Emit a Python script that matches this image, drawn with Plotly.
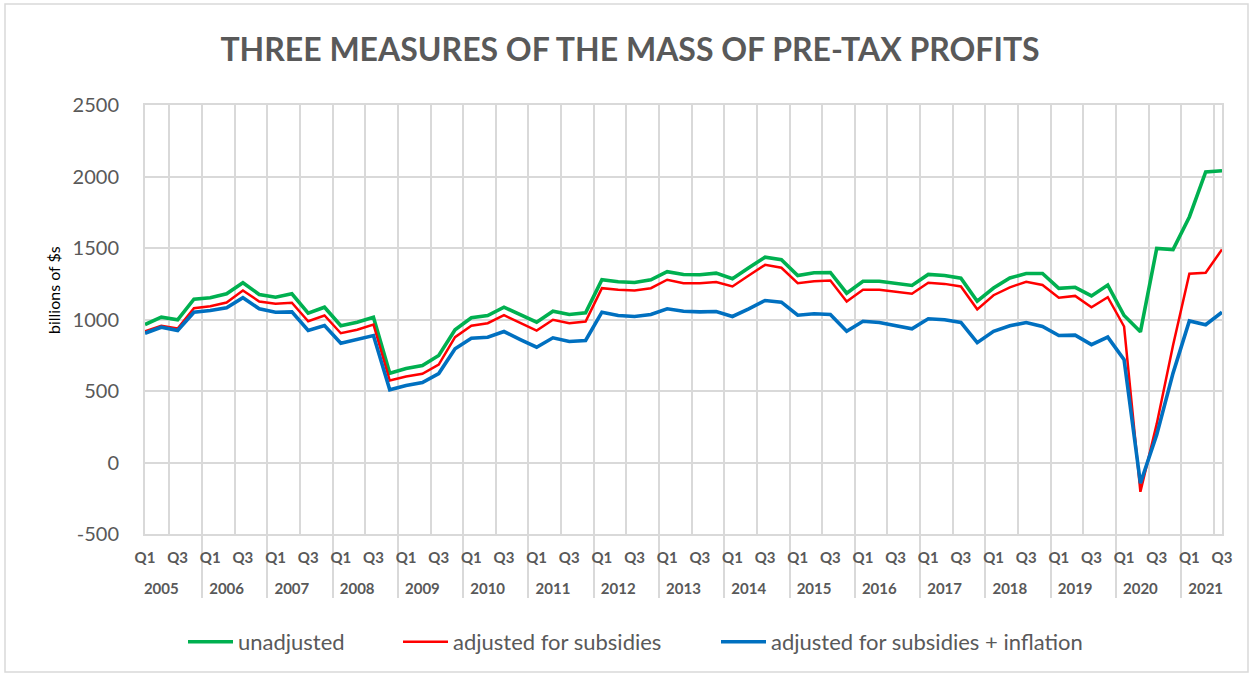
import plotly.graph_objects as go

# ---------------- data ----------------
years = [str(y) for y in range(2005, 2022)]
quarters = ["Q1", "Q2", "Q3", "Q4"]
shown_quarters = ["Q1", "Q3"]
y_tick_values = [-500, 0, 500, 1000, 1500, 2000, 2500]
y_tick_labels = ["-500", "0", "500", "1000", "1500", "2000", "2500"]

unadjusted = [
    965, 1016, 998, 1142,
    1152, 1180, 1257, 1175,
    1156, 1180, 1044, 1086,
    956, 981, 1016, 624,
    657, 678, 748, 928,
    1012, 1028, 1086, 1035,
    981, 1058, 1035, 1047,
    1278, 1264, 1259, 1278,
    1334, 1315, 1313, 1324,
    1285, 1362, 1436, 1418,
    1308, 1327, 1329, 1184,
    1268, 1268, 1254, 1238,
    1315, 1308, 1289, 1128,
    1220, 1290, 1322, 1322,
    1218, 1225, 1165, 1241,
    1028, 914, 1497, 1489,
    1717, 2032, 2040,
]

adjusted_subsidies = [
    918, 956, 937, 1079,
    1093, 1119, 1203, 1126,
    1110, 1117, 988, 1028,
    904, 928, 965, 573,
    601, 620, 685, 876,
    956, 974, 1030, 974,
    923, 998, 974, 986,
    1219, 1208, 1203, 1219,
    1278, 1254, 1254, 1262,
    1231, 1308, 1382, 1362,
    1254, 1268, 1273, 1126,
    1208, 1208, 1196, 1180,
    1257, 1249, 1231, 1071,
    1170, 1225, 1264, 1241,
    1153, 1165, 1086, 1156,
    951, -205, 270, 820,
    1320, 1327, 1490,
]

adjusted_subsidies_inflation = [
    904, 946, 923, 1051,
    1063, 1082, 1152, 1075,
    1051, 1053, 923, 958,
    834, 860, 888, 508,
    538, 559, 622, 795,
    869, 876, 916, 860,
    806, 872, 846, 853,
    1051, 1028, 1021, 1035,
    1075, 1058, 1053, 1056,
    1021, 1075, 1133, 1121,
    1030, 1040, 1035, 918,
    988, 979, 958, 935,
    1005, 998, 980, 838,
    917, 956, 979, 951,
    888, 891, 824, 877,
    719, -145, 195, 625,
    990, 963, 1051,
]

series_names = ["unadjusted", "adjusted for subsidies", "adjusted for subsidies + inflation"]
series_colors = ["#00B050", "#FF0000", "#0070C0"]
series_widths = [3.6, 2.5, 3.6]

# ---------------- categories ----------------
n = len(unadjusted)
# a leading line break pushes the year row further below the quarter row
year_cat = ["<br>" + years[i // 4] for i in range(n)]
q_cat = []
for i in range(n):
    q = quarters[i % 4]
    if q in shown_quarters:
        q_cat.append(q)
    else:
        q_cat.append("<span style='color:rgba(0,0,0,0)'>" + q + "</span>")
x_cat = [year_cat, q_cat]

GREY = "#595959"
GRID = "#D9D9D9"
FONT = "Lato, 'Open Sans', sans-serif"

fig = go.Figure()
legend_ids = ["legend", "legend2", "legend3"]
for vals, name, col, w, lg in zip(
    [unadjusted, adjusted_subsidies, adjusted_subsidies_inflation],
    series_names, series_colors, series_widths, legend_ids,
):
    fig.add_trace(go.Scatter(
        x=x_cat, y=vals, name=name, mode="lines",
        line=dict(color=col, width=w), legend=lg,
    ))

# plot area in pixels: x 145..1222, y 105..534
W, H = 1252, 677
ML, MR, MT, MB = 145, 30, 105, 143
PW = W - ML - MR
PH = H - MT - MB


def px_x(p):
    return (p - ML) / PW


def px_y(p):
    return (H - MB - p) / PH


leg_common = dict(orientation="h", yanchor="middle", xanchor="left",
                  font=dict(family=FONT, size=22, color=GREY),
                  bgcolor="rgba(0,0,0,0)", itemwidth=45)
legend_starts = [183, 398, 716]

fig.update_layout(
    width=W, height=H,
    margin=dict(l=ML, r=MR, t=MT, b=MB),
    paper_bgcolor="white", plot_bgcolor="white",
    font=dict(family=FONT, color=GREY),
    title=dict(text="THREE MEASURES OF THE MASS OF PRE-TAX PROFITS",
               x=630 / W, xanchor="center", y=1 - 50 / H, yanchor="middle",
               font=dict(family=FONT, size=32, weight="bold", color=GREY)),
    showlegend=True,
    legend=dict(x=px_x(legend_starts[0]), y=px_y(642), **leg_common),
    legend2=dict(x=px_x(legend_starts[1]), y=px_y(642), **leg_common),
    legend3=dict(x=px_x(legend_starts[2]), y=px_y(642), **leg_common),
    xaxis=dict(
        type="multicategory", showgrid=True, gridcolor=GRID, gridwidth=2,
        tickfont=dict(family=FONT, size=15, weight="bold", color=GREY),
        tickangle=0, ticklabelstandoff=9,
        showdividers=True, dividercolor=GRID, dividerwidth=2,
        showline=True, linecolor=GRID, linewidth=2, mirror=True,
        ticks="", zeroline=False,
    ),
    yaxis=dict(
        range=[-500, 2500], tickmode="array",
        tickvals=y_tick_values, ticktext=y_tick_labels,
        showgrid=True, gridcolor=GRID, gridwidth=2, zeroline=False,
        tickfont=dict(family=FONT, size=20, color=GREY),
        ticklabelstandoff=20,
        showline=True, linecolor=GRID, linewidth=2, mirror=True,
    ),
    annotations=[dict(text="billions of $s", xref="paper", yref="paper",
                      x=px_x(53), y=px_y(290), xanchor="center", yanchor="middle",
                      textangle=-90, showarrow=False,
                      font=dict(family=FONT, size=16, color="#000000"))],
    shapes=[dict(type="rect", xref="paper", yref="paper",
                 x0=px_x(5), x1=px_x(1248), y0=px_y(672), y1=px_y(4),
                 line=dict(color=GRID, width=1.5), fillcolor="rgba(0,0,0,0)",
                 layer="below")],
)

fig.write_html("out.html", config={"displayModeBar": False},
               post_script="document.body.style.margin='0';document.body.style.overflow='hidden';")
